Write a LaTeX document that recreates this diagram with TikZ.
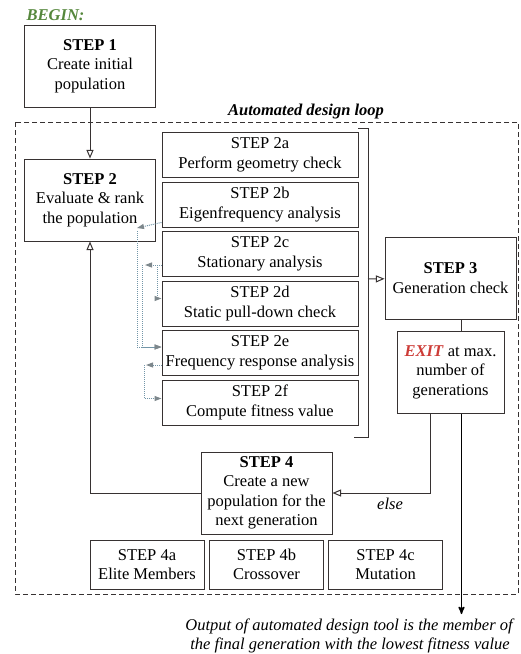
\documentclass[tikz,border=0pt]{standalone}
\usepackage{fontspec}
\setmainfont{Liberation Serif}
\usetikzlibrary{shapes, arrows, arrows.meta}

\definecolor{boxline}{RGB}{55,50,50}
\definecolor{dotblue}{RGB}{115,150,168}
\definecolor{dothead}{RGB}{125,135,140}
\definecolor{begingreen}{RGB}{85,135,60}
\definecolor{exitred}{RGB}{205,60,55}

\begin{document}
\begin{tikzpicture}[x=1pt,y=-1pt,>=open triangle 45,thick,node distance=49.5pt,
                     every node/.style={font=\fontsize{16.5}{19.5}\selectfont},
                     main node/.style={rectangle,draw=boxline,line width=1pt,align=center,
                                       inner sep=0pt,minimum width=131pt,minimum height=82pt},
                     sub node/.style={main node,minimum width=196pt,minimum height=45pt},
                     part node/.style={main node,minimum width=114pt,minimum height=49pt},
                     flow/.style={->,draw=boxline,line width=1pt},
                     dotflow/.style={-{Triangle[length=7pt,width=5pt,color=dothead]},
                                     draw=dotblue,densely dotted,line width=1pt}]

  \useasboundingbox (0,0) rectangle (520,654);

  % loop frame
  \draw[boxline,line width=0.8pt,dash pattern=on 5pt off 3pt] (15,122) rectangle (518,594);
  \node (loop) at (306,112) {\textbf{\textit{Automated design loop}}};
  \node[anchor=west,text=begingreen] (begin) at (23,15) {\textbf{\textit{BEGIN:}}};

  \node[main node] (1) at (90,66) {\textbf{STEP 1}\\Create initial\\population};
  \node[main node] (2) at (90,200) {\textbf{STEP 2}\\Evaluate \& rank\\the population};

  \node[sub node] (2a) at (260,155) {STEP 2a\\Perform geometry check};
  \node[sub node] (2b) [below of=2a] {STEP 2b\\Eigenfrequency analysis};
  \node[sub node] (2c) [below of=2b] {STEP 2c\\Stationary analysis};
  \node[sub node] (2d) [below of=2c] {STEP 2d\\Static pull-down check};
  \node[sub node] (2e) [below of=2d] {STEP 2e\\Frequency response analysis};
  \node[sub node] (2f) [below of=2e] {STEP 2f\\Compute fitness value};

  \node[main node] (3) at (450.5,278) {\textbf{STEP 3}\\Generation check};
  \node[main node,minimum width=107pt] (exit) at (450.5,372)
    {\textcolor{exitred}{\textbf{\textit{EXIT}}} at max.\\number of\\generations};
  \node[main node] (4) at (266.5,493) {\textbf{STEP 4}\\Create a new\\population for the\\next generation};

  \node[part node] (4a) at (147,564.5) {STEP 4a\\Elite Members};
  \node[part node] (4b) at (266.5,564.5) {STEP 4b\\Crossover};
  \node[part node] (4c) at (385.5,564.5) {STEP 4c\\Mutation};

  \node (else) at (390,504) {\textit{else}};
  \node[align=center] (result) at (350,636)
    {\textit{Output of automated design tool is the member of}\\
     \textit{the final generation with the lowest fitness value}};

  % bracket round the sub steps
  \coordinate (brk) at (368,279);
  \draw[boxline,line width=1pt] (358,128) -- (368,128) -- (368,437) -- (354,437);

  \draw[flow] (1) -- (2);
  \draw[flow] (brk) -- (3);
  \draw[boxline,line width=1pt] ([xshift=11pt]3.south) -- ([xshift=11pt]exit.north);
  \draw[flow] ([xshift=-20pt]exit.south) |- (4);
  \draw[flow] (4) -| (2);
  \coordinate (out) at (461.5,614);
  \draw[-stealth',black,line width=1.5pt] ([xshift=11pt]exit.south) -- (out);

  % checks that pass on to the next analysis
  \coordinate (b1) at (137,228);
  \coordinate (c1) at (145,265);
  \coordinate (e1) at (146,365);
  \draw[dotflow] ([yshift=5pt]2b.south west) -- (b1);
  \draw[dotflow] ([yshift=-3pt]b1) |- ([yshift=6pt]2e.west);
  \draw[dotflow] ([yshift=-11pt]2c.west) -- (c1);
  \draw[dotflow] ([xshift=-4pt,yshift=-11pt]2c.west) |- ([yshift=5pt]2d.west);
  \draw[dotflow] ([xshift=-3pt]c1) |- ([yshift=6pt]2e.west);
  \draw[dotflow] ([yshift=-12pt]2e.west) -- (e1);
  \draw[dotflow] ([xshift=-2pt]e1) |- ([yshift=4pt]2f.west);
\end{tikzpicture}
\end{document}
